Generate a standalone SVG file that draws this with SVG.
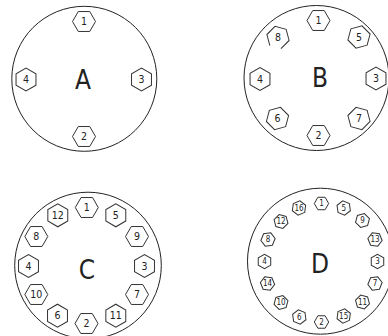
<svg xmlns="http://www.w3.org/2000/svg" xmlns:xlink="http://www.w3.org/1999/xlink" width="388" height="336" viewBox="0 0 388 336">
<style>
.ring{fill:none;stroke:#222;stroke-width:1}
.hx{fill:#fff;stroke:#333;stroke-width:1;stroke-linejoin:miter}
.n{font-family:"Liberation Sans Narrow","DejaVu Sans Condensed",sans-serif;font-size:10.5px;text-anchor:middle;fill:#222}
.m{font-family:"Liberation Sans Narrow","DejaVu Sans Condensed",sans-serif;font-size:8px;text-anchor:middle;fill:#222}
.big{font-family:"Liberation Sans Narrow","DejaVu Sans Condensed",sans-serif;font-size:26px;text-anchor:middle;fill:#222}
</style>
<defs>
<polygon id="hx" class="hx" points="11.5,0 5.75,9.96 -5.75,9.96 -11.5,0 -5.75,-9.96 5.75,-9.96"/>
<polygon id="hs" class="hx" points="7.2,0 3.6,6.24 -3.6,6.24 -7.2,0 -3.6,-6.24 3.6,-6.24"/>
</defs>
<g id="connectors"/>

<g id="panelA">
<circle class="ring" cx="84.3" cy="78.8" r="72.5"/>
<text class="big" x="83" y="88.5">A</text>
<g id="A1" transform="translate(84,21.5)"><use href="#hx"/><text class="n" y="3.7">1</text></g>
<g id="A3" transform="translate(141.5,79.5)"><use href="#hx" transform="rotate(30)"/><text class="n" y="3.7">3</text></g>
<g id="A2" transform="translate(84,136.5)"><use href="#hx"/><text class="n" y="3.7">2</text></g>
<g id="A4" transform="translate(26,79.5)"><use href="#hx" transform="rotate(30)"/><text class="n" y="3.7">4</text></g>
</g>

<g id="panelB">
<circle class="ring" cx="316.5" cy="78" r="72.5"/>
<text class="big" x="320" y="86.5">B</text>
<g id="B1" transform="translate(318.5,20.5)"><use href="#hx"/><text class="n" y="3.7">1</text></g>
<g id="B5" transform="translate(359,37)"><use href="#hx" transform="rotate(45)"/><text class="n" y="3.7">5</text></g>
<g id="B3" transform="translate(376,78.5)"><use href="#hx" transform="rotate(30)"/><text class="n" y="3.7">3</text></g>
<g id="B7" transform="translate(359,118.5)"><use href="#hx" transform="rotate(15)"/><text class="n" y="3.7">7</text></g>
<g id="B2" transform="translate(318.5,135.5)"><use href="#hx"/><text class="n" y="3.7">2</text></g>
<g id="B6" transform="translate(277.5,118.5)"><use href="#hx" transform="rotate(45)"/><text class="n" y="3.7">6</text></g>
<g id="B4" transform="translate(260,79)"><use href="#hx" transform="rotate(30)"/><text class="n" y="3.7">4</text></g>
<g id="B8" transform="translate(278,37.5)"><polyline class="hx" fill="none" transform="rotate(15)" points="-5.75,9.96 -11.5,0 -5.75,-9.96 5.75,-9.96 11.5,0 5.75,9.96"/><text class="n" y="3.7">8</text></g>
</g>

<g id="panelC">
<circle class="ring" cx="88" cy="265.5" r="73.3"/>
<text class="big" x="87" y="279">C</text>
<g id="C1" transform="translate(86.8,207.5)"><use href="#hx"/><text class="n" y="3.7">1</text></g>
<g id="C5" transform="translate(115.8,215.3)"><use href="#hx" transform="rotate(30)"/><text class="n" y="3.7">5</text></g>
<g id="C9" transform="translate(137,236.5)"><use href="#hx"/><text class="n" y="3.7">9</text></g>
<g id="C3" transform="translate(144.5,266)"><use href="#hx" transform="rotate(30)"/><text class="n" y="3.7">3</text></g>
<g id="C7" transform="translate(137,294.5)"><use href="#hx"/><text class="n" y="3.7">7</text></g>
<g id="C11" transform="translate(115.8,315.7)"><use href="#hx" transform="rotate(30)"/><text class="n" y="3.7">11</text></g>
<g id="C2" transform="translate(86.5,323.5)"><use href="#hx"/><text class="n" y="3.7">2</text></g>
<g id="C6" transform="translate(57.5,315.7)"><use href="#hx" transform="rotate(30)"/><text class="n" y="3.7">6</text></g>
<g id="C10" transform="translate(36.3,294.5)"><use href="#hx"/><text class="n" y="3.7">10</text></g>
<g id="C4" transform="translate(28.5,266)"><use href="#hx" transform="rotate(30)"/><text class="n" y="3.7">4</text></g>
<g id="C8" transform="translate(36.3,236.5)"><use href="#hx"/><text class="n" y="3.7">8</text></g>
<g id="C12" transform="translate(57.8,215.3)"><use href="#hx" transform="rotate(30)"/><text class="n" y="3.7">12</text></g>
</g>

<g id="panelD">
<circle class="ring" cx="320.5" cy="261.2" r="73"/>
<text class="big" x="320" y="272.5">D</text>
<g id="D1" transform="translate(321.5,203.5)"><use href="#hs"/><text class="m" y="2.9">1</text></g>
<g id="D5" transform="translate(343.7,208)"><use href="#hs" transform="rotate(22.5)"/><text class="m" y="2.9">5</text></g>
<g id="D9" transform="translate(362.5,220.5)"><use href="#hs" transform="rotate(45)"/><text class="m" y="2.9">9</text></g>
<g id="D13" transform="translate(375,239.5)"><use href="#hs" transform="rotate(7.5)"/><text class="m" y="2.9">13</text></g>
<g id="D3" transform="translate(377.5,261.5)"><use href="#hs" transform="rotate(30)"/><text class="m" y="2.9">3</text></g>
<g id="D7" transform="translate(375,283.5)"><use href="#hs" transform="rotate(52.5)"/><text class="m" y="2.9">7</text></g>
<g id="D11" transform="translate(362.5,302)"><use href="#hs" transform="rotate(15)"/><text class="m" y="2.9">11</text></g>
<g id="D15" transform="translate(343.7,316)"><use href="#hs" transform="rotate(37.5)"/><text class="m" y="2.9">15</text></g>
<g id="D2" transform="translate(321.5,322)"><use href="#hs"/><text class="m" y="2.9">2</text></g>
<g id="D6" transform="translate(299.3,317)"><use href="#hs" transform="rotate(22.5)"/><text class="m" y="2.9">6</text></g>
<g id="D10" transform="translate(281,302.5)"><use href="#hs" transform="rotate(45)"/><text class="m" y="2.9">10</text></g>
<g id="D14" transform="translate(267.5,283.5)"><use href="#hs" transform="rotate(7.5)"/><text class="m" y="2.9">14</text></g>
<g id="D4" transform="translate(264.5,261.5)"><use href="#hs" transform="rotate(30)"/><text class="m" y="2.9">4</text></g>
<g id="D8" transform="translate(268,239.5)"><use href="#hs" transform="rotate(52.5)"/><text class="m" y="2.9">8</text></g>
<g id="D12" transform="translate(281,221.5)"><use href="#hs" transform="rotate(15)"/><text class="m" y="2.9">12</text></g>
<g id="D16" transform="translate(299,208)"><use href="#hs" transform="rotate(37.5)"/><text class="m" y="2.9">16</text></g>
</g>
</svg>
